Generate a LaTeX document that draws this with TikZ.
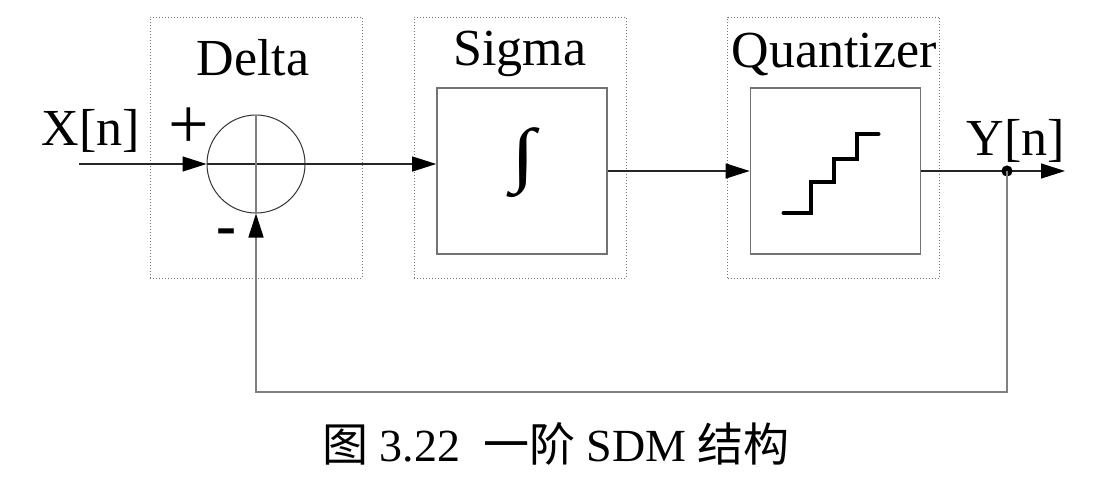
\documentclass[tikz,border=0pt]{standalone}
\usepackage{graphicx}
\usepackage{fontspec}
\setmainfont{Liberation Serif}
\newfontfamily\cjk{Noto Sans CJK SC}
\usetikzlibrary{positioning,arrows.meta}
\usetikzlibrary{calc}

\begin{document}
\begin{tikzpicture}[x=0.5pt,y=-0.5pt]
  \useasboundingbox (0,0) rectangle (1120,493);

  \tikzstyle{stage} = [
    % The shape:
    rectangle, minimum width=106pt, minimum height=130.5pt,
    % The border:
    densely dotted, line width=0.5pt,
    draw=black!55
  ];
  \tikzstyle{block} = [
    % The shape:
    rectangle, minimum width=85pt, minimum height=83pt,
    % The border:
    line width=0.8pt,
    draw=black!55
  ];
  \tikzstyle{adder} = [
    circle, minimum size=49pt, inner sep=0pt,
    draw=black!80, line width=0.5pt
  ];
  \tikzstyle{title} = [
    % Just text!
    anchor=base, inner sep=0pt, font=\fontsize{26}{30}\selectfont
  ];
  \tikzstyle{sign} = [
    % Just text!
    inner sep=0pt
  ];
  \tikzstyle{flow} = [
    draw=black!85,
    line width=0.6pt,
    -{Triangle[length=12pt,width=7.5pt,color=black]}
  ];
  \tikzstyle{joiningFlow} = [
    draw=black!85,
    line width=0.6pt
  ];
  \tikzstyle{feedback} = [
    draw=black!50,
    line width=0.8pt
  ];

  % The three stages
  \node [stage] (deltaStage) at (256,147.5) {};
  \node [stage] (sigmaStage) at (520,147.5) {};
  \node [stage] (quantStage) at (833.5,147.5) {};

  \node [title] (deltaLabel) at (253,75) {Delta};
  \node [title] (sigmaLabel) at (520,65) {Sigma};
  \node [title] (quantLabel) at (834,67) {Quantizer};

  \node [adder] (sum) at (256,164) {};
  \node [block] (sigma) at (522,171) {};
  \node [block] (quant) at (835.5,171) {};

  \node [sign, font=\fontsize{36}{36}\selectfont] (plus) at (189,128) {+};
  \node [sign, font=\fontsize{30}{30}\selectfont\bfseries] (minus) at (226,237) {-};
  \node [sign] (integral) at ($(sigma.center)+(1,-8)$)
        {\resizebox*{12pt}{35pt}{∫}};

  % Staircase of the quantizer
  \draw [line width=2pt, line cap=round] ($(quant.center)+(-52,42)$)
        -- ++(27,0) -- ++(0,-31) -- ++(23,0) -- ++(0,-23)
        -- ++(23,0) -- ++(0,-25) -- ++(22,0);

  \node [title] (xLabel) at (91,145) {X[n]};
  \node [title] (yLabel) at (1016,155) {Y[n]};

  \coordinate (xin) at (79,164);
  \coordinate (tap) at (1007,171);
  \coordinate [right = 29pt of tap] (yout);
  \coordinate (fbBottom) at (0,392);

  \path [flow] (xin) to (sum.west);
  \path [joiningFlow] (sum.west) to (sum.east);
  \path [flow] (sum.east) to (sum.east -| sigma.west);
  \path [flow] (sigma.east) to (quant.west);
  \path [joiningFlow] (quant.east) to (tap);
  \path [flow] (tap) to (yout);
  \fill [black] (tap) circle [radius=2.8pt];

  \path [feedback] (sum.north) to (sum.south);
  \path [feedback] (tap) to (tap |- fbBottom) to (sum.south |- fbBottom)
                   to ($(sum.south)+(0,12)$);
  \path [flow, draw=black!50, line width=0.8pt] ($(sum.south)+(0,12)$) to (sum.south);

  \node [anchor=base, inner sep=0pt, font=\fontsize{23}{27}\selectfont] (caption)
        at (556,461) {{\cjk 图} 3.22\ \ {\cjk 一阶} SDM {\cjk 结构}};
\end{tikzpicture}
\end{document}
